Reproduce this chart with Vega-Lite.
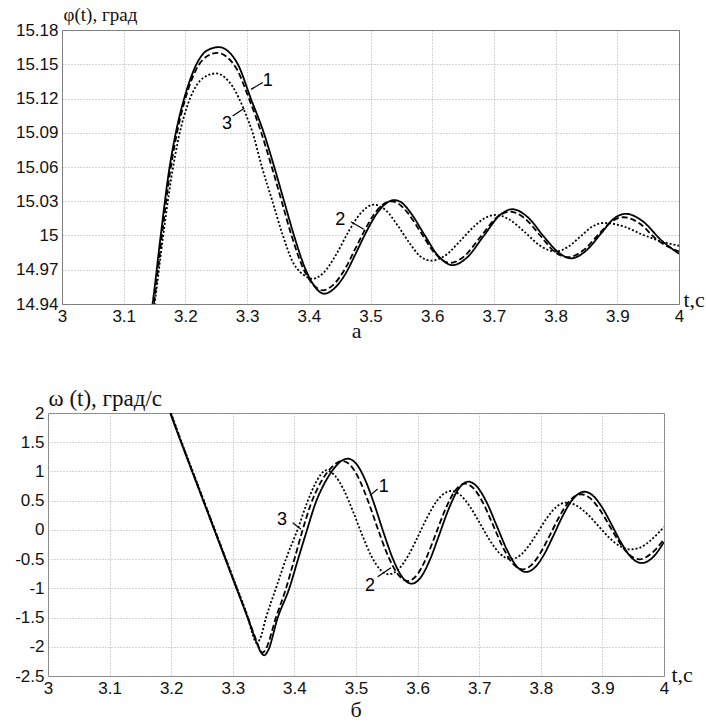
{
  "$schema": "https://vega.github.io/schema/vega-lite/v6.json",
  "padding": {"left": 14, "top": 5, "right": 0, "bottom": 0},
  "config": {
    "view": {"stroke": "#7f7f7f", "strokeWidth": 1},
    "axis": {"labelFont": "Liberation Sans", "labelFontSize": 17, "labelColor": "#111", "ticks": false, "domain": false, "domainColor": "#7f7f7f", "domainWidth": 1, "gridColor": "#aaaaaa", "gridDash": [1, 2], "gridOpacity": 1, "labelPadding": 4, "titleFontWeight": "normal", "titleColor": "#111", "titleFont": "Liberation Serif", "labelFlush": false, "labelOverlap": false},
    "title": {"font": "Liberation Serif", "fontSize": 22, "fontWeight": "normal", "color": "#111"},
    "text": {"font": "Liberation Sans", "fontSize": 18}
  },
  "datasets": {
    "phi": [
      {"t":3.14,"v":14.915,"s":"1"},{"t":3.147,"v":14.941,"s":"1"},{"t":3.16,"v":15.0,"s":"1"},{"t":3.173,"v":15.055,"s":"1"},{"t":3.186,"v":15.094,"s":"1"},{"t":3.198,"v":15.12,"s":"1"},{"t":3.208,"v":15.137,"s":"1"},{"t":3.217,"v":15.149,"s":"1"},{"t":3.235,"v":15.162,"s":"1"},{"t":3.254,"v":15.165,"s":"1"},{"t":3.27,"v":15.161,"s":"1"},{"t":3.285,"v":15.15,"s":"1"},{"t":3.306,"v":15.12,"s":"1"},{"t":3.327,"v":15.09,"s":"1"},{"t":3.344,"v":15.06,"s":"1"},{"t":3.36,"v":15.03,"s":"1"},{"t":3.376,"v":15.0,"s":"1"},{"t":3.395,"v":14.97,"s":"1"},{"t":3.41,"v":14.955,"s":"1"},{"t":3.425,"v":14.949,"s":"1"},{"t":3.44,"v":14.953,"s":"1"},{"t":3.46,"v":14.967,"s":"1"},{"t":3.475,"v":14.983,"s":"1"},{"t":3.493,"v":15.003,"s":"1"},{"t":3.51,"v":15.019,"s":"1"},{"t":3.525,"v":15.028,"s":"1"},{"t":3.538,"v":15.031,"s":"1"},{"t":3.55,"v":15.029,"s":"1"},{"t":3.565,"v":15.02,"s":"1"},{"t":3.587,"v":15.001,"s":"1"},{"t":3.61,"v":14.982,"s":"1"},{"t":3.633,"v":14.974,"s":"1"},{"t":3.655,"v":14.98,"s":"1"},{"t":3.684,"v":15.0,"s":"1"},{"t":3.71,"v":15.018,"s":"1"},{"t":3.73,"v":15.023,"s":"1"},{"t":3.755,"v":15.016,"s":"1"},{"t":3.781,"v":14.999,"s":"1"},{"t":3.805,"v":14.985,"s":"1"},{"t":3.825,"v":14.98,"s":"1"},{"t":3.85,"v":14.987,"s":"1"},{"t":3.874,"v":15.002,"s":"1"},{"t":3.895,"v":15.015,"s":"1"},{"t":3.914,"v":15.019,"s":"1"},{"t":3.94,"v":15.013,"s":"1"},{"t":3.971,"v":14.996,"s":"1"},{"t":4.0,"v":14.984,"s":"1"},
      {"t":3.14,"v":14.91,"s":"2"},{"t":3.149,"v":14.941,"s":"2"},{"t":3.162,"v":15.0,"s":"2"},{"t":3.175,"v":15.055,"s":"2"},{"t":3.188,"v":15.094,"s":"2"},{"t":3.2,"v":15.12,"s":"2"},{"t":3.218,"v":15.146,"s":"2"},{"t":3.235,"v":15.157,"s":"2"},{"t":3.252,"v":15.16,"s":"2"},{"t":3.268,"v":15.156,"s":"2"},{"t":3.283,"v":15.146,"s":"2"},{"t":3.303,"v":15.12,"s":"2"},{"t":3.323,"v":15.09,"s":"2"},{"t":3.34,"v":15.06,"s":"2"},{"t":3.356,"v":15.03,"s":"2"},{"t":3.372,"v":15.0,"s":"2"},{"t":3.392,"v":14.97,"s":"2"},{"t":3.407,"v":14.957,"s":"2"},{"t":3.4225,"v":14.952,"s":"2"},{"t":3.44,"v":14.957,"s":"2"},{"t":3.46,"v":14.972,"s":"2"},{"t":3.475,"v":14.988,"s":"2"},{"t":3.49,"v":15.004,"s":"2"},{"t":3.505,"v":15.018,"s":"2"},{"t":3.52,"v":15.027,"s":"2"},{"t":3.533,"v":15.03,"s":"2"},{"t":3.545,"v":15.028,"s":"2"},{"t":3.56,"v":15.02,"s":"2"},{"t":3.58,"v":15.004,"s":"2"},{"t":3.605,"v":14.984,"s":"2"},{"t":3.629,"v":14.976,"s":"2"},{"t":3.65,"v":14.981,"s":"2"},{"t":3.68,"v":15.0,"s":"2"},{"t":3.705,"v":15.016,"s":"2"},{"t":3.726,"v":15.021,"s":"2"},{"t":3.75,"v":15.015,"s":"2"},{"t":3.775,"v":15.0,"s":"2"},{"t":3.8,"v":14.985,"s":"2"},{"t":3.82,"v":14.981,"s":"2"},{"t":3.845,"v":14.987,"s":"2"},{"t":3.868,"v":15.0,"s":"2"},{"t":3.89,"v":15.012,"s":"2"},{"t":3.91,"v":15.016,"s":"2"},{"t":3.935,"v":15.011,"s":"2"},{"t":3.965,"v":14.996,"s":"2"},{"t":4.0,"v":14.986,"s":"2"},
      {"t":3.14,"v":14.905,"s":"3"},{"t":3.15,"v":14.94,"s":"3"},{"t":3.164,"v":15.0,"s":"3"},{"t":3.177,"v":15.05,"s":"3"},{"t":3.19,"v":15.088,"s":"3"},{"t":3.204,"v":15.115,"s":"3"},{"t":3.22,"v":15.133,"s":"3"},{"t":3.235,"v":15.14,"s":"3"},{"t":3.25,"v":15.142,"s":"3"},{"t":3.265,"v":15.138,"s":"3"},{"t":3.277,"v":15.13,"s":"3"},{"t":3.287,"v":15.12,"s":"3"},{"t":3.298,"v":15.106,"s":"3"},{"t":3.309,"v":15.09,"s":"3"},{"t":3.324,"v":15.06,"s":"3"},{"t":3.341,"v":15.03,"s":"3"},{"t":3.358,"v":15.0,"s":"3"},{"t":3.373,"v":14.978,"s":"3"},{"t":3.386,"v":14.968,"s":"3"},{"t":3.396,"v":14.964,"s":"3"},{"t":3.406,"v":14.962,"s":"3"},{"t":3.425,"v":14.968,"s":"3"},{"t":3.445,"v":14.984,"s":"3"},{"t":3.465,"v":15.004,"s":"3"},{"t":3.485,"v":15.02,"s":"3"},{"t":3.505,"v":15.027,"s":"3"},{"t":3.525,"v":15.022,"s":"3"},{"t":3.545,"v":15.008,"s":"3"},{"t":3.565,"v":14.992,"s":"3"},{"t":3.58,"v":14.982,"s":"3"},{"t":3.598,"v":14.978,"s":"3"},{"t":3.62,"v":14.982,"s":"3"},{"t":3.645,"v":14.995,"s":"3"},{"t":3.67,"v":15.009,"s":"3"},{"t":3.688,"v":15.016,"s":"3"},{"t":3.703,"v":15.018,"s":"3"},{"t":3.725,"v":15.014,"s":"3"},{"t":3.75,"v":15.003,"s":"3"},{"t":3.775,"v":14.991,"s":"3"},{"t":3.8,"v":14.986,"s":"3"},{"t":3.82,"v":14.99,"s":"3"},{"t":3.84,"v":14.999,"s":"3"},{"t":3.86,"v":15.008,"s":"3"},{"t":3.879,"v":15.011,"s":"3"},{"t":3.91,"v":15.008,"s":"3"},{"t":3.94,"v":15.001,"s":"3"},{"t":3.97,"v":14.995,"s":"3"},{"t":4.0,"v":14.991,"s":"3"}
    ],
    "omega": [
      {"t":3.19,"v":2.25,"s":"1"},{"t":3.1985,"v":2.0,"s":"1"},{"t":3.216,"v":1.5,"s":"1"},{"t":3.234,"v":1.0,"s":"1"},{"t":3.252,"v":0.5,"s":"1"},{"t":3.27,"v":0.0,"s":"1"},{"t":3.288,"v":-0.5,"s":"1"},{"t":3.306,"v":-1.0,"s":"1"},{"t":3.324,"v":-1.5,"s":"1"},{"t":3.3395,"v":-1.95,"s":"1"},{"t":3.346,"v":-2.1,"s":"1"},{"t":3.351,"v":-2.146,"s":"1"},{"t":3.357,"v":-2.07,"s":"1"},{"t":3.373,"v":-1.5,"s":"1"},{"t":3.3917,"v":-1.0,"s":"1"},{"t":3.406,"v":-0.5,"s":"1"},{"t":3.4205,"v":0.0,"s":"1"},{"t":3.434,"v":0.45,"s":"1"},{"t":3.449,"v":0.8,"s":"1"},{"t":3.462,"v":1.02,"s":"1"},{"t":3.475,"v":1.17,"s":"1"},{"t":3.487,"v":1.218,"s":"1"},{"t":3.5,"v":1.136,"s":"1"},{"t":3.515,"v":0.853,"s":"1"},{"t":3.53,"v":0.428,"s":"1"},{"t":3.545,"v":-0.055,"s":"1"},{"t":3.56,"v":-0.497,"s":"1"},{"t":3.575,"v":-0.806,"s":"1"},{"t":3.5904,"v":-0.92,"s":"1"},{"t":3.605,"v":-0.814,"s":"1"},{"t":3.62,"v":-0.511,"s":"1"},{"t":3.635,"v":-0.087,"s":"1"},{"t":3.65,"v":0.345,"s":"1"},{"t":3.665,"v":0.677,"s":"1"},{"t":3.6823,"v":0.825,"s":"1"},{"t":3.697,"v":0.733,"s":"1"},{"t":3.712,"v":0.473,"s":"1"},{"t":3.729,"v":0.056,"s":"1"},{"t":3.745,"v":-0.34,"s":"1"},{"t":3.76,"v":-0.612,"s":"1"},{"t":3.776,"v":-0.72,"s":"1"},{"t":3.79,"v":-0.647,"s":"1"},{"t":3.805,"v":-0.426,"s":"1"},{"t":3.82,"v":-0.109,"s":"1"},{"t":3.835,"v":0.227,"s":"1"},{"t":3.85,"v":0.499,"s":"1"},{"t":3.8706,"v":0.653,"s":"1"},{"t":3.885,"v":0.583,"s":"1"},{"t":3.9,"v":0.377,"s":"1"},{"t":3.915,"v":0.089,"s":"1"},{"t":3.93,"v":-0.211,"s":"1"},{"t":3.945,"v":-0.449,"s":"1"},{"t":3.9638,"v":-0.567,"s":"1"},{"t":3.98,"v":-0.488,"s":"1"},{"t":4.0,"v":-0.208,"s":"1"},
      {"t":3.19,"v":2.25,"s":"2"},{"t":3.199,"v":2.0,"s":"2"},{"t":3.2165,"v":1.5,"s":"2"},{"t":3.2345,"v":1.0,"s":"2"},{"t":3.2525,"v":0.5,"s":"2"},{"t":3.2705,"v":0.0,"s":"2"},{"t":3.2885,"v":-0.5,"s":"2"},{"t":3.3065,"v":-1.0,"s":"2"},{"t":3.3245,"v":-1.5,"s":"2"},{"t":3.3395,"v":-1.93,"s":"2"},{"t":3.344,"v":-2.05,"s":"2"},{"t":3.3485,"v":-2.1,"s":"2"},{"t":3.354,"v":-2.03,"s":"2"},{"t":3.37,"v":-1.5,"s":"2"},{"t":3.3864,"v":-1.0,"s":"2"},{"t":3.4,"v":-0.5,"s":"2"},{"t":3.4134,"v":0.0,"s":"2"},{"t":3.427,"v":0.45,"s":"2"},{"t":3.442,"v":0.8,"s":"2"},{"t":3.457,"v":1.03,"s":"2"},{"t":3.468,"v":1.14,"s":"2"},{"t":3.478,"v":1.18,"s":"2"},{"t":3.49,"v":1.115,"s":"2"},{"t":3.505,"v":0.869,"s":"2"},{"t":3.52,"v":0.481,"s":"2"},{"t":3.535,"v":0.031,"s":"2"},{"t":3.55,"v":-0.395,"s":"2"},{"t":3.567,"v":-0.745,"s":"2"},{"t":3.584,"v":-0.875,"s":"2"},{"t":3.599,"v":-0.77,"s":"2"},{"t":3.614,"v":-0.483,"s":"2"},{"t":3.629,"v":-0.084,"s":"2"},{"t":3.645,"v":0.349,"s":"2"},{"t":3.66,"v":0.656,"s":"2"},{"t":3.677,"v":0.79,"s":"2"},{"t":3.692,"v":0.698,"s":"2"},{"t":3.707,"v":0.445,"s":"2"},{"t":3.722,"v":0.094,"s":"2"},{"t":3.738,"v":-0.287,"s":"2"},{"t":3.753,"v":-0.558,"s":"2"},{"t":3.77,"v":-0.675,"s":"2"},{"t":3.785,"v":-0.598,"s":"2"},{"t":3.8,"v":-0.383,"s":"2"},{"t":3.815,"v":-0.085,"s":"2"},{"t":3.83,"v":0.225,"s":"2"},{"t":3.847,"v":0.499,"s":"2"},{"t":3.865,"v":0.61,"s":"2"},{"t":3.88,"v":0.543,"s":"2"},{"t":3.895,"v":0.357,"s":"2"},{"t":3.91,"v":0.099,"s":"2"},{"t":3.925,"v":-0.169,"s":"2"},{"t":3.942,"v":-0.407,"s":"2"},{"t":3.96,"v":-0.503,"s":"2"},{"t":3.98,"v":-0.4,"s":"2"},{"t":4.0,"v":-0.16,"s":"2"},
      {"t":3.19,"v":2.25,"s":"3"},{"t":3.1995,"v":2.0,"s":"3"},{"t":3.217,"v":1.5,"s":"3"},{"t":3.235,"v":1.0,"s":"3"},{"t":3.253,"v":0.5,"s":"3"},{"t":3.271,"v":0.0,"s":"3"},{"t":3.289,"v":-0.5,"s":"3"},{"t":3.307,"v":-1.0,"s":"3"},{"t":3.3245,"v":-1.5,"s":"3"},{"t":3.332,"v":-1.78,"s":"3"},{"t":3.338,"v":-1.93,"s":"3"},{"t":3.344,"v":-1.87,"s":"3"},{"t":3.354,"v":-1.5,"s":"3"},{"t":3.37,"v":-1.0,"s":"3"},{"t":3.388,"v":-0.45,"s":"3"},{"t":3.405,"v":0.0,"s":"3"},{"t":3.42,"v":0.45,"s":"3"},{"t":3.432,"v":0.75,"s":"3"},{"t":3.443,"v":0.95,"s":"3"},{"t":3.451,"v":1.02,"s":"3"},{"t":3.465,"v":0.939,"s":"3"},{"t":3.48,"v":0.688,"s":"3"},{"t":3.495,"v":0.32,"s":"3"},{"t":3.51,"v":-0.087,"s":"3"},{"t":3.525,"v":-0.449,"s":"3"},{"t":3.54,"v":-0.689,"s":"3"},{"t":3.553,"v":-0.76,"s":"3"},{"t":3.568,"v":-0.684,"s":"3"},{"t":3.585,"v":-0.436,"s":"3"},{"t":3.6,"v":-0.124,"s":"3"},{"t":3.615,"v":0.202,"s":"3"},{"t":3.632,"v":0.505,"s":"3"},{"t":3.654,"v":0.665,"s":"3"},{"t":3.669,"v":0.599,"s":"3"},{"t":3.685,"v":0.398,"s":"3"},{"t":3.7,"v":0.135,"s":"3"},{"t":3.716,"v":-0.158,"s":"3"},{"t":3.733,"v":-0.399,"s":"3"},{"t":3.7516,"v":-0.5,"s":"3"},{"t":3.765,"v":-0.447,"s":"3"},{"t":3.78,"v":-0.28,"s":"3"},{"t":3.795,"v":-0.041,"s":"3"},{"t":3.81,"v":0.204,"s":"3"},{"t":3.825,"v":0.391,"s":"3"},{"t":3.841,"v":0.465,"s":"3"},{"t":3.857,"v":0.42,"s":"3"},{"t":3.875,"v":0.276,"s":"3"},{"t":3.893,"v":0.072,"s":"3"},{"t":3.91,"v":-0.122,"s":"3"},{"t":3.928,"v":-0.276,"s":"3"},{"t":3.946,"v":-0.333,"s":"3"},{"t":3.96,"v":-0.308,"s":"3"},{"t":3.975,"v":-0.209,"s":"3"},{"t":3.99,"v":-0.062,"s":"3"},{"t":4.0,"v":0.05,"s":"3"}
    ],
    "phiLab": [{"t":3.3334,"v":15.135,"l":"1"},{"t":3.451,"v":15.014,"l":"2"},{"t":3.2674,"v":15.098,"l":"3"}],
    "phiLead": [{"t":3.3063,"v":15.128,"t2":3.3253,"v2":15.134},{"t":3.4684,"v":15.012,"t2":3.489,"v2":15.0054},{"t":3.2766,"v":15.1047,"t2":3.2955,"v2":15.1114}],
    "omegaLab": [{"t":3.545,"v":0.734,"l":"1"},{"t":3.5227,"v":-0.96,"l":"2"},{"t":3.3799,"v":0.164,"l":"3"}],
    "omegaLead": [{"t":3.523,"v":0.59,"t2":3.535,"v2":0.7},{"t":3.5352,"v":-0.8,"t2":3.5568,"v2":-0.647},{"t":3.3972,"v":0.123,"t2":3.4107,"v2":0.01}]
  },
  "vconcat": [
    {
      "width": 631, "height": 274,
      "view": {"stroke": null},
      "title": {"text": "а", "orient": "bottom", "dx": -7, "offset": -3},
      "resolve": {"axis": {"x": "independent", "y": "independent"}},
      "layer": [
        {"data": {"name": "phi"}, "mark": {"type": "line", "clip": true, "color": "black", "strokeWidth": 1.8, "interpolate": "monotone"},
         "encoding": {
           "x": {"field": "t", "type": "quantitative", "scale": {"domain": [3, 4], "range": [14, 631], "nice": false, "zero": false},
                 "axis": {"values": [3,3.1,3.2,3.3,3.4,3.5,3.6,3.7,3.8,3.9,4], "labelExpr": "toString(datum.value)", "domain": true, "title": "t,c", "titleX": 635, "titleY": 2, "titleAlign": "left", "titleBaseline": "alphabetic", "titleFontSize": 22}},
           "y": {"field": "v", "type": "quantitative", "scale": {"domain": [14.94, 15.18], "nice": false, "zero": false},
                 "axis": {"values": [14.94,14.97,15,15.03,15.06,15.09,15.12,15.15,15.18], "labelExpr": "toString(datum.value)", "offset": -14, "domain": true, "title": "φ(t), град", "titleAngle": 0, "titleX": 1, "titleY": -10, "titleAlign": "left", "titleBaseline": "alphabetic", "titleFontSize": 19}},
           "strokeDash": {"field": "s", "type": "nominal", "scale": {"domain": ["1","2","3"], "range": [[1,0],[6,3],[2,2]]}, "legend": null}}},
        {"data": {"name": "phiLead"}, "mark": {"type": "rule", "color": "black", "strokeWidth": 1.2},
         "encoding": {
           "x": {"field": "t", "type": "quantitative", "axis": {"orient": "top", "labels": false, "ticks": false, "grid": false, "domain": true, "title": null, "minExtent": 0, "maxExtent": 0}},
           "y": {"field": "v", "type": "quantitative", "axis": {"orient": "right", "labels": false, "ticks": false, "grid": false, "domain": true, "title": null, "minExtent": 0, "maxExtent": 0}},
           "x2": {"field": "t2"}, "y2": {"field": "v2"}}},
        {"data": {"name": "phiLab"}, "mark": {"type": "text", "color": "black"},
         "encoding": {
           "x": {"field": "t", "type": "quantitative", "axis": null},
           "y": {"field": "v", "type": "quantitative", "axis": null},
           "text": {"field": "l"}}}
      ]
    },
    {
      "width": 616, "height": 263,
      "title": {"text": "б", "orient": "bottom", "offset": 4},
      "encoding": {
        "x": {"field": "t", "type": "quantitative", "scale": {"domain": [3, 4], "nice": false, "zero": false},
              "axis": {"values": [3,3.1,3.2,3.3,3.4,3.5,3.6,3.7,3.8,3.9,4], "labelExpr": "toString(datum.value)", "title": "t,c", "titleX": 623, "titleY": 5, "titleAlign": "left", "titleBaseline": "alphabetic", "titleFontSize": 22}},
        "y": {"field": "v", "type": "quantitative", "scale": {"domain": [-2.5, 2], "nice": false, "zero": false},
              "axis": {"values": [-2.5,-2,-1.5,-1,-0.5,0,0.5,1,1.5,2], "labelExpr": "toString(datum.value)", "title": "ω (t), град/с", "titleAngle": 0, "titleX": 0, "titleY": -8, "titleAlign": "left", "titleBaseline": "alphabetic", "titleFontSize": 23}}
      },
      "layer": [
        {"data": {"name": "omega"}, "mark": {"type": "line", "clip": true, "color": "black", "strokeWidth": 1.8, "interpolate": "monotone"},
         "encoding": {"strokeDash": {"field": "s", "type": "nominal", "scale": {"domain": ["1","2","3"], "range": [[1,0],[6,3],[2,2]]}, "legend": null}}},
        {"data": {"name": "omegaLead"}, "mark": {"type": "rule", "color": "black", "strokeWidth": 1.2},
         "encoding": {"x2": {"field": "t2"}, "y2": {"field": "v2"}}},
        {"data": {"name": "omegaLab"}, "mark": {"type": "text", "color": "black"},
         "encoding": {"text": {"field": "l"}}}
      ]
    }
  ],
  "spacing": 44
}
